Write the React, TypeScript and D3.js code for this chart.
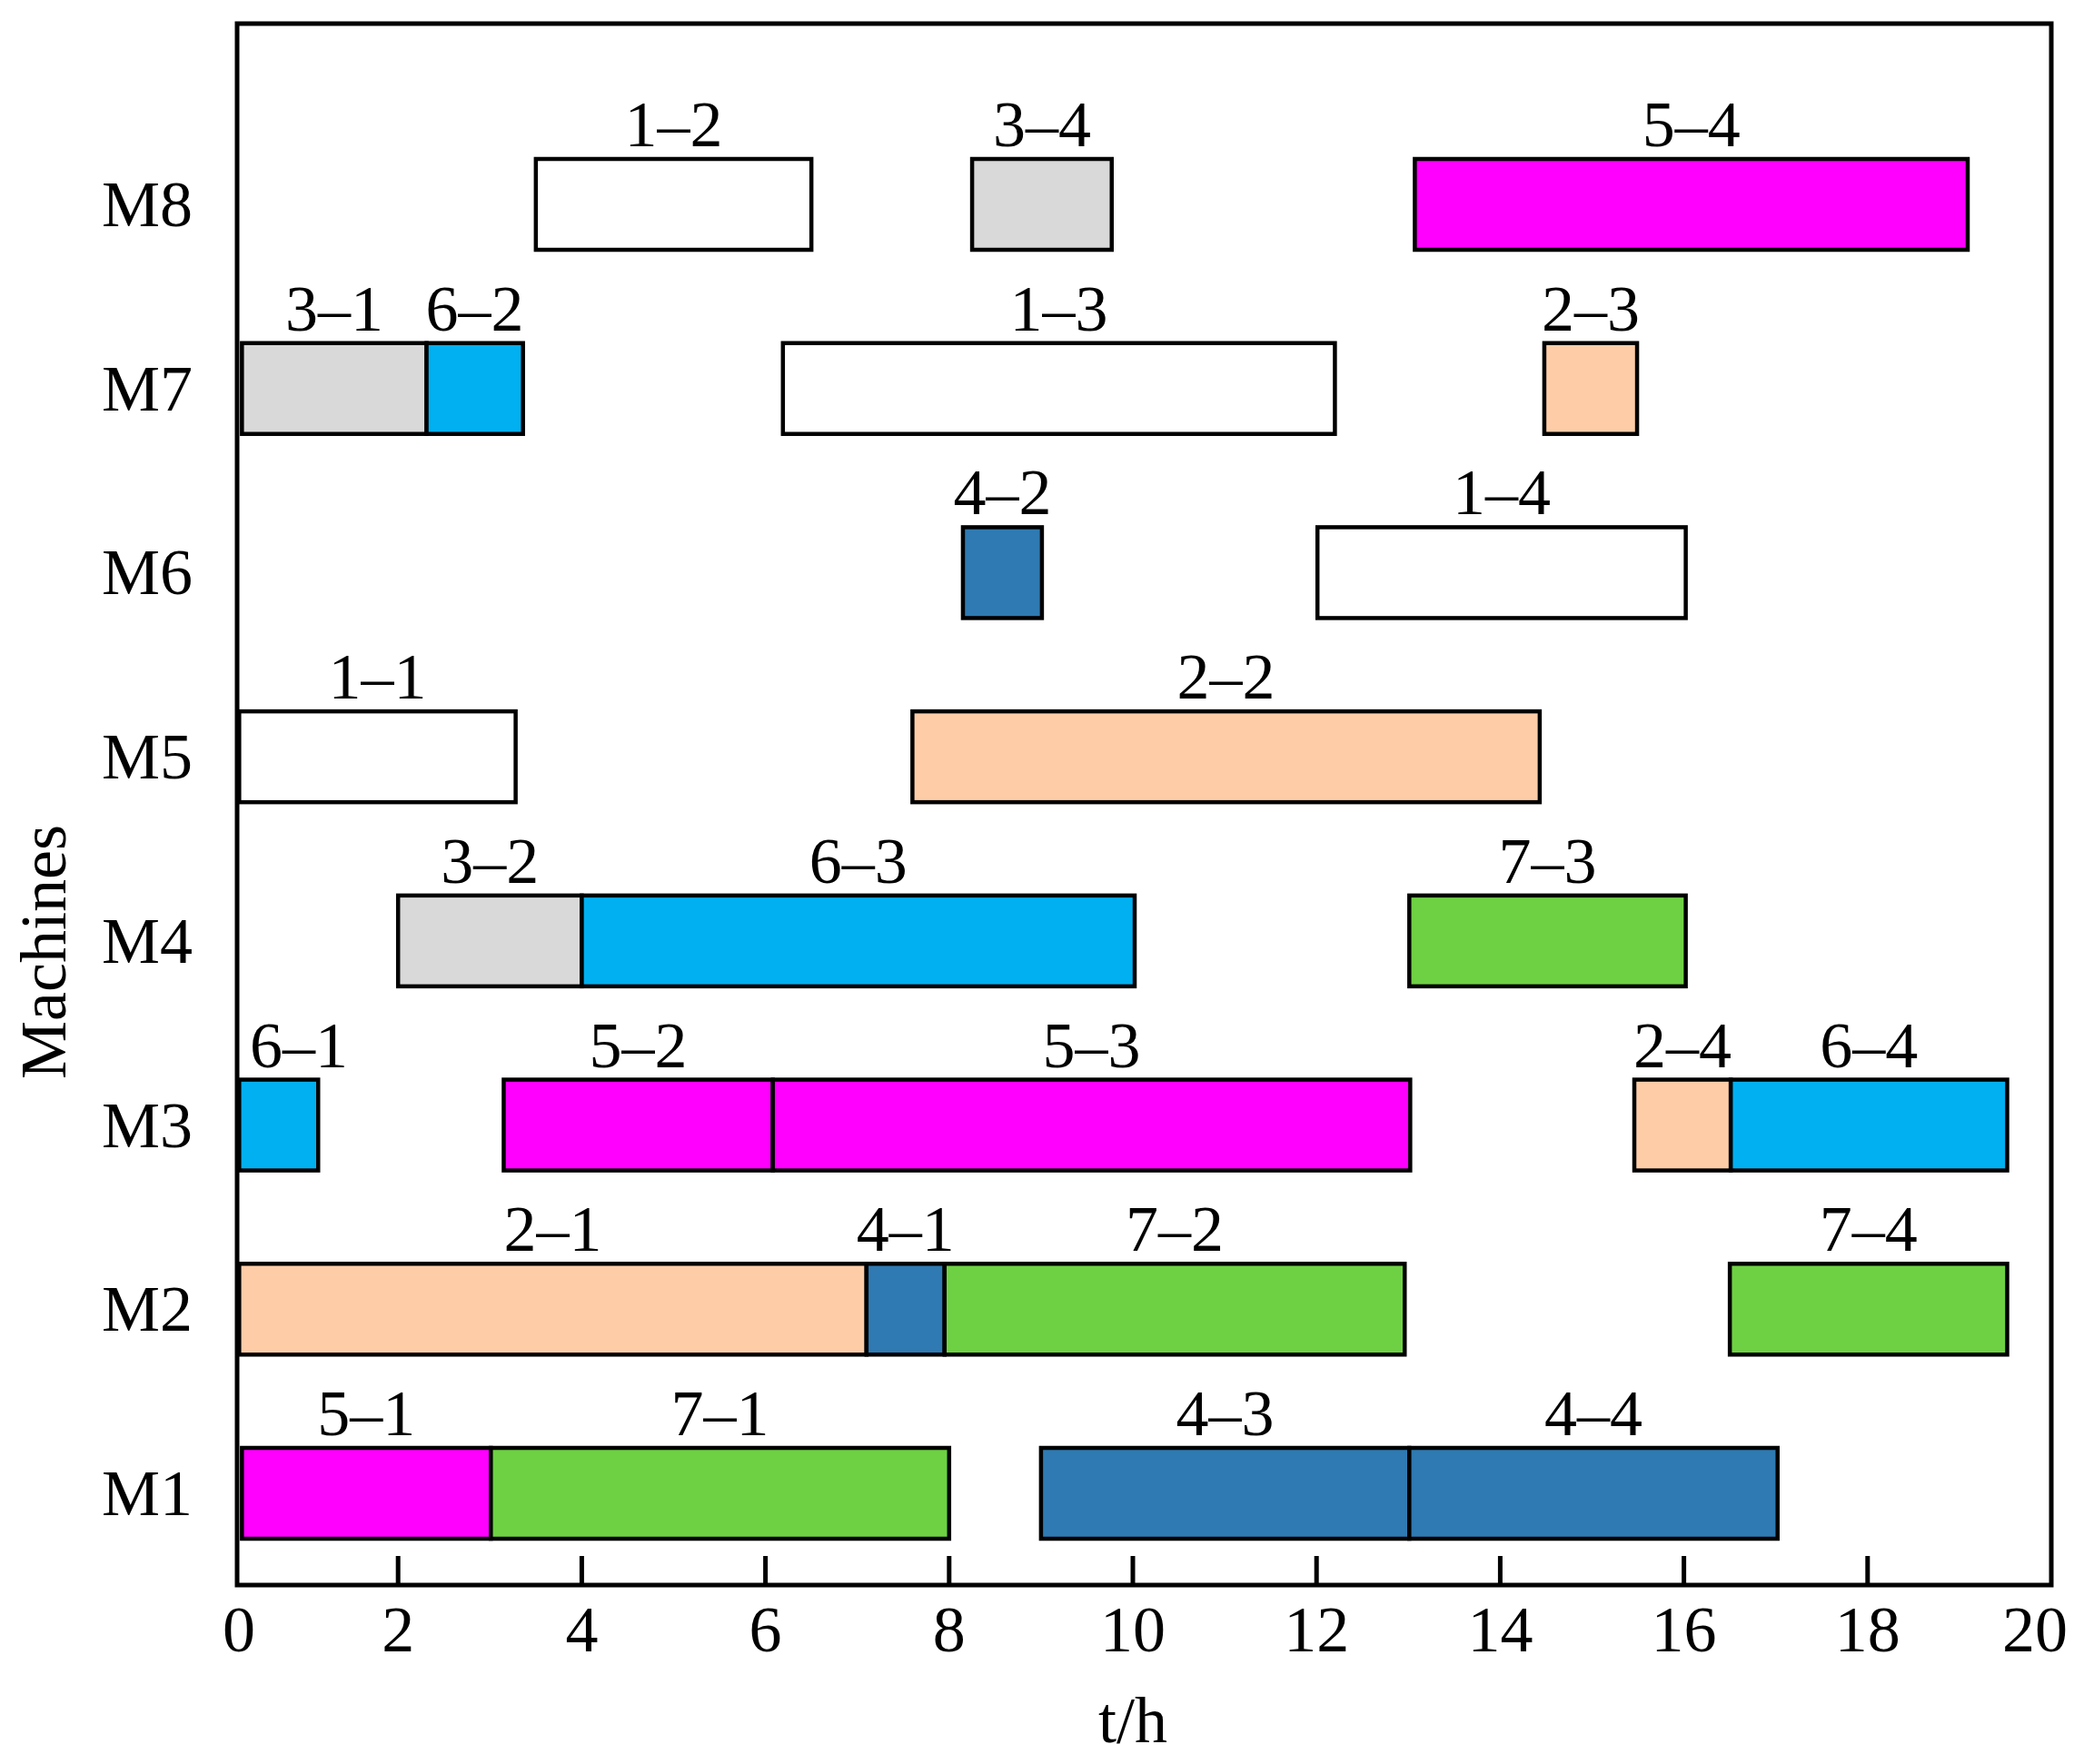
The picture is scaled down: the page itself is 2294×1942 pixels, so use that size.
import React from "react";
import * as d3 from "d3";

// ---- data ----
const machines = ["M1", "M2", "M3", "M4", "M5", "M6", "M7", "M8"];
const xTicks = [0, 2, 4, 6, 8, 10, 12, 14, 16, 18, 20];

const jobColors: Record<number, string> = {
  1: "#FFFFFF",
  2: "#FECDA8",
  3: "#D9D9D9",
  4: "#2F7AB2",
  5: "#FF00FF",
  6: "#00B0F0",
  7: "#6ED143",
};

// [machine, job, operation, start, end]
const operationsM8 = [
  ["M8", 1, 2, 3.5, 6.5],
  ["M8", 3, 4, 8.25, 9.77],
  ["M8", 5, 4, 13.07, 19.09],
];
const operationsM7 = [
  ["M7", 3, 1, 0.3, 2.31],
  ["M7", 6, 2, 2.31, 3.36],
  ["M7", 1, 3, 6.19, 12.2],
  ["M7", 2, 3, 14.48, 15.49],
];
const operationsM6 = [
  ["M6", 4, 2, 8.15, 9.01],
  ["M6", 1, 4, 12.01, 16.02],
];
const operationsM5 = [
  ["M5", 1, 1, 0.27, 3.28],
  ["M5", 2, 2, 7.6, 14.43],
];
const operationsM4 = [
  ["M4", 3, 2, 2.0, 4.0],
  ["M4", 6, 3, 4.0, 10.02],
  ["M4", 7, 3, 13.01, 16.02],
];
const operationsM3 = [
  ["M3", 6, 1, 0.27, 1.13],
  ["M3", 5, 2, 3.15, 6.08],
  ["M3", 5, 3, 6.08, 13.02],
  ["M3", 2, 4, 15.46, 16.51],
  ["M3", 6, 4, 16.51, 19.52],
];
const operationsM2 = [
  ["M2", 2, 1, 0.27, 7.1],
  ["M2", 4, 1, 7.1, 7.95],
  ["M2", 7, 2, 7.95, 12.96],
  ["M2", 7, 4, 16.5, 19.52],
];
const operationsM1 = [
  ["M1", 5, 1, 0.3, 3.01],
  ["M1", 7, 1, 3.01, 8.0],
  ["M1", 4, 3, 9.0, 13.01],
  ["M1", 4, 4, 13.01, 17.02],
];

const allOps = [
  ...operationsM8,
  ...operationsM7,
  ...operationsM6,
  ...operationsM5,
  ...operationsM4,
  ...operationsM3,
  ...operationsM2,
  ...operationsM1,
] as [string, number, number, number, number][];

// ---- layout ----
const W = 2294;
const H = 1942;
const FONT = "'Liberation Serif', 'Times New Roman', serif";
const FS = 72;

export default function App() {
  const x = d3.scaleLinear().domain([0, 20]).range([236, 2258]);
  const y = d3.scalePoint<string>().domain(machines).range([1644, 225]);
  const frameLeft = 261;
  const frameRight = x(20);
  const frameTop = 26;
  const frameBottom = 1745;
  const barH = 100;

  return (
    <svg
      width={W}
      height={H}
      viewBox={`0 0 ${W} ${H}`}
      style={{ position: "absolute", left: 0, top: 0, background: "#fff" }}
      fontFamily={FONT}
    >
      <rect x={0} y={0} width={W} height={H} fill="#fff" />
      {/* bars */}
      {allOps.map(([m, job, op, s, e], i) => {
        const cy = y(m) as number;
        const x0 = x(s);
        const x1 = x(e);
        return (
          <rect
            key={"b" + i}
            x={x0}
            y={cy - barH / 2}
            width={x1 - x0}
            height={barH}
            fill={jobColors[job]}
            stroke="#000"
            strokeWidth={4.5}
          />
        );
      })}
      {/* bar labels */}
      {allOps.map(([m, job, op, s, e], i) => {
        const cy = y(m) as number;
        const labelHalf = 0.75 * FS;
        const cx = Math.max((x(s) + x(e)) / 2, frameLeft + labelHalf + 14);
        return (
          <text
            key={"l" + i}
            x={cx}
            y={cy - barH / 2 - 14}
            textAnchor="middle"
            fontSize={FS}
            fill="#000"
          >
            {`${job}\u2013${op}`}
          </text>
        );
      })}
      {/* frame */}
      <rect
        x={frameLeft}
        y={frameTop}
        width={frameRight - frameLeft}
        height={frameBottom - frameTop}
        fill="none"
        stroke="#000"
        strokeWidth={5}
      />
      {/* x ticks (inward) */}
      {xTicks
        .filter((t) => t > 0 && t < 20)
        .map((t) => (
          <line
            key={"t" + t}
            x1={x(t)}
            x2={x(t)}
            y1={frameBottom}
            y2={frameBottom - 32}
            stroke="#000"
            strokeWidth={5}
          />
        ))}
      {/* x tick labels */}
      {xTicks.map((t) => {
        let tx = x(t);
        if (t === 0) tx = frameLeft + 2;
        if (t === 20) tx = frameRight - 18;
        return (
          <text
            key={"tl" + t}
            x={tx}
            y={1818}
            textAnchor="middle"
            fontSize={FS}
            fill="#000"
          >
            {t}
          </text>
        );
      })}
      {/* y labels */}
      {machines.map((m) => (
        <text
          key={"y" + m}
          x={212}
          y={(y(m) as number) + 24}
          textAnchor="end"
          fontSize={FS}
          fill="#000"
        >
          {m}
        </text>
      ))}
      {/* axis titles */}
      <text x={x(10)} y={1918} textAnchor="middle" fontSize={FS} fill="#000">
        t/h
      </text>
      <text
        transform={`translate(72,1048) rotate(-90)`}
        textAnchor="middle"
        fontSize={FS}
        fill="#000"
      >
        Machines
      </text>
    </svg>
  );
}
